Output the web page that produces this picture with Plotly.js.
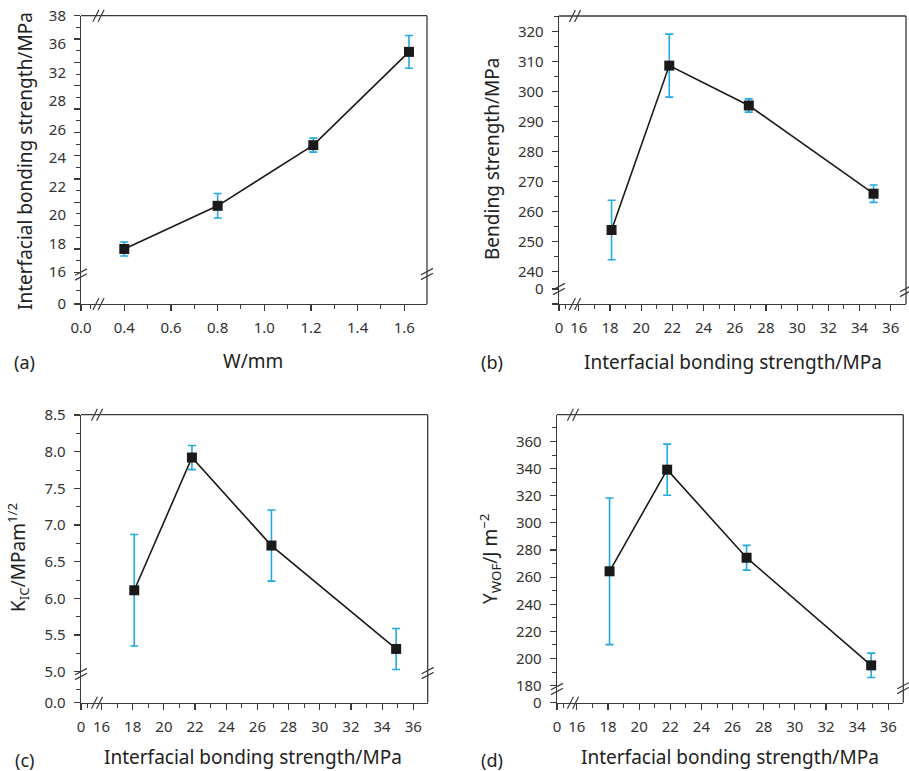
<!DOCTYPE html>
<html><head><meta charset="utf-8">
<script src="https://cdn.plot.ly/plotly-3.0.1.min.js"></script>
<style>html,body{margin:0;padding:0;background:#fff}#chart{width:909px;height:771px}</style>
</head><body><div id="chart"></div>
<script>
// ---------------- data ----------------
const widthW   = [0.4, 0.8, 1.21, 1.62];          // W/mm (panel a)
const ibsMean  = [18.0, 21.7, 26.9, 34.9];        // interfacial bonding strength, MPa
const ibsErr   = [0.6, 1.05, 0.6, 1.4];
const ibsX     = [18.1, 21.8, 26.9, 34.9];        // x for panels b-d
const bendMean = [253.9, 308.7, 295.4, 266.0];    // bending strength, MPa
const bendErr  = [9.9, 10.5, 2.2, 2.9];
const kicMean  = [6.11, 7.92, 6.72, 5.31];        // K_IC, MPa m^1/2
const kicErr   = [0.76, 0.165, 0.485, 0.28];
const wofMean  = [264.3, 339.2, 274.3, 195.0];    // work of fracture, J m^-2
const wofErr   = [54, 18.8, 9.1, 9.0];

const panelLabels = ['(a)', '(b)', '(c)', '(d)'];
const xTitles = ['W/mm', 'Interfacial bonding strength/MPa', 'Interfacial bonding strength/MPa', 'Interfacial bonding strength/MPa'];
const yTitles = ['Interfacial bonding strength/MPa', 'Bending strength/MPa', 'K<sub>IC</sub>/MPam<sup>1/2</sup>', 'Y<sub>WOF</sub>/J m<sup>\u22122</sup>'];
const xZeroText = ['0.0', '0', '0', '0'];
const yZeroText = ['0', '0', '0.0', '0'];
const aYTickText = ['38', '36', '32', '28', '26', '24', '22', '20', '18', '16'];

const seriesX = [widthW, ibsX, ibsX, ibsX];
const seriesY = [ibsMean, bendMean, kicMean, wofMean];
const seriesE = [ibsErr, bendErr, kicErr, wofErr];

// ---------------- geometry (pixels) ----------------
const W = 909, H = 771;
const fx = p => p / W;
const fy = p => 1 - p / H;
const lin = (p1, v1, p2, v2) => p => v1 + (p - p1) * (v2 - v1) / (p2 - p1);
const FONT = '"Noto Sans", "DejaVu Sans", sans-serif';
const AX = '#3a3a3a';
const EBC = '#22a8e2';

const geo = [
  {L:81, XB:97, R:427, T:15.7, YB:277, B:304,
   xm:[124.3,0.4,404.3,1.6], xdt:0.2, xmn:0.1, xdec:1,
   ym:[15.7,38,272.3,16], ydt:2, ymn:1, ydec:0,
   xsMinor:[9], yZeroPx:304, ysMinor:[290],
   xBrk:98.5, yBrk:274.5, rBrk:274,
   yt:[25,161], xt:[253,361], pl:[24,361.5]},
  {L:559, XB:572, R:906, T:16, YB:284, B:304,
   xm:[610,18,890.7,36], xdt:2, xmn:1, xdec:0,
   ym:[31.7,320,271.7,240], ydt:10, ymn:5, ydec:0,
   xsMinor:[6], yZeroPx:289, ysMinor:[],
   xBrk:575, yBrk:289, rBrk:291,
   yt:[492,159], xt:[732.5,361.5], pl:[491.5,361.5]},
  {L:81, XB:96, R:427.7, T:414.7, YB:676, B:702.7,
   xm:[132.7,18,413.3,36], xdt:2, xmn:1, xdec:0,
   ym:[415,8.5,671.7,5.0], ydt:0.5, ymn:0.25, ydec:1,
   xsMinor:[6], yZeroPx:702.7, ysMinor:[689],
   xBrk:97, yBrk:674, rBrk:673,
   yt:[18,558], xt:[253,756.5], pl:[24,760]},
  {L:557, XB:571, R:903.3, T:414.7, YB:690, B:702.7,
   xm:[608,18,888.3,36], xdt:2, xmn:1, xdec:0,
   ym:[414.3,380,685.7,180], ydt:20, ymn:10, ydec:0,
   xsMinor:[6], yZeroPx:702.7, ysMinor:[],
   xBrk:573, yBrk:689, rBrk:688,
   yt:[490,559], xt:[730,756.5], pl:[491.5,760]}
];

const baseAxis = () => ({
  showline: true, linecolor: AX, linewidth: 1.3,
  ticks: 'outside', ticklen: 6, tickwidth: 1.2, tickcolor: AX,
  showgrid: false, zeroline: false, fixedrange: true,
  tickfont: {family: FONT, size: 15, color: '#333'}
});
const minorOf = vals => ({tickmode: 'array', tickvals: vals, ticks: 'outside', ticklen: 3.5, tickwidth: 1, tickcolor: AX});
const steps = (from, to, d) => {
  const out = [];
  for (let k = Math.ceil(from / d - 1e-9); k * d <= to + 1e-9; k++) out.push(+(k * d).toFixed(6));
  return out;
};

const layout = {
  width: W, height: H, margin: {l:0, r:0, t:0, b:0},
  paper_bgcolor: '#fff', plot_bgcolor: 'rgba(0,0,0,0)',
  showlegend: false, hovermode: false,
  shapes: [], annotations: []
};
const traces = [];

function seg(x0, y0, x1, y1, w) {
  layout.shapes.push({type:'line', xref:'paper', yref:'paper',
    x0: fx(x0), y0: fy(y0), x1: fx(x1), y1: fy(y1),
    line: {color: AX, width: w || 1.2}});
}
function breakOnHorizontal(cx, cy) {
  for (const d of [-2.6, 2.6]) seg(cx + d - 3, cy + 6, cx + d + 3, cy - 6);
}
function breakOnVertical(cx, cy) {
  for (const d of [-2.4, 2.4]) seg(cx - 6, cy + d + 3.2, cx + 6, cy + d - 3.2);
}

geo.forEach((g, i) => {
  const n = i === 0 ? '' : String(i + 1);
  const xid = 'x' + n, yid = 'y' + n;
  const mx = lin(...g.xm), my = lin(...g.ym);
  const xr = [mx(g.L), mx(g.R)], yr = [my(g.B), my(g.T)];

  // x axis: short segment holding the zero, then the broken-off main scale
  const xMaj = steps(mx(g.XB), xr[1], g.xdt);
  const xv = [xr[0]].concat(xMaj);
  const xt = [xZeroText[i]].concat(xMaj.map(v => v.toFixed(g.xdec)));
  const xmn = g.xsMinor.map(p => mx(g.L + p)).concat(steps(mx(g.XB + 5), xr[1], g.xmn));
  layout['xaxis' + n] = Object.assign(baseAxis(), {
    domain: [fx(g.L), fx(g.R)], range: xr, anchor: yid,
    tickmode: 'array', tickvals: xv, ticktext: xt,
    ticklabelstandoff: 4, minor: minorOf(xmn)
  });

  // y axis
  const yMaj = steps(my(g.YB), yr[1], g.ydt);
  let yv = [my(g.yZeroPx)], yt = [yZeroText[i]];
  if (Math.abs(g.yZeroPx - g.B) > 1) { yv.push(yr[0]); yt.push(''); }
  const ymn = g.ysMinor.map(my).concat(steps(my(g.YB - 3), yr[1], g.ymn));
  const yAxis = Object.assign(baseAxis(), {
    domain: [fy(g.B), fy(g.T)], range: yr, anchor: xid,
    tickmode: 'array', tickvals: yv.concat(yMaj),
    ticktext: yt.concat(yMaj.map(v => v.toFixed(g.ydec))),
    ticklabelstandoff: 5, minor: minorOf(ymn)
  });
  if (i === 0) {
    // panel (a): the original's tick labels follow their own, wider spacing
    yAxis.showticklabels = false;
    const labPx = aYTickText.map((t, k) => 15.7 + k * 28.45);
    layout.yaxis5 = Object.assign(baseAxis(), {
      overlaying: 'y', side: 'left', anchor: 'x', range: yr,
      showline: false, tickcolor: 'rgba(0,0,0,0)',
      tickmode: 'array', tickvals: [my(g.yZeroPx)].concat(labPx.map(my)),
      ticktext: [yZeroText[i]].concat(aYTickText),
      ticklabelstandoff: 5
    });
    traces.push({type: 'scatter', mode: 'markers', x: [], y: [], xaxis: 'x', yaxis: 'y5', hoverinfo: 'skip'});
  }
  layout['yaxis' + n] = yAxis;

  traces.push({
    type: 'scatter', mode: 'lines+markers',
    x: seriesX[i], y: seriesY[i], xaxis: xid, yaxis: yid,
    line: {color: '#1a1a1a', width: 1.6},
    marker: {symbol: 'square', size: 10, color: '#1a1a1a'},
    error_y: {type: 'data', array: seriesE[i], visible: true, color: EBC, thickness: 1.6, width: 4},
    cliponaxis: false
  });

  // frame (top and right) and axis-break marks
  seg(g.L, g.T, g.R, g.T, 1.3);
  seg(g.R, g.T, g.R, g.B, 1.3);
  breakOnHorizontal(g.xBrk, g.T);
  breakOnHorizontal(g.xBrk, g.B);
  breakOnVertical(g.L, g.yBrk);
  breakOnVertical(g.R, g.rBrk);

  // titles and panel label
  const ann = (txt, p, extra) => layout.annotations.push(Object.assign({
    text: txt, xref: 'paper', yref: 'paper', x: fx(p[0]), y: fy(p[1]),
    xanchor: 'center', yanchor: 'middle', showarrow: false,
    font: {family: FONT, size: 19, color: '#222'}
  }, extra || {}));
  ann(yTitles[i], g.yt, {textangle: -90});
  ann(xTitles[i], g.xt);
  ann(panelLabels[i], g.pl, {font: {family: FONT, size: 18, color: '#222'}});
});

Plotly.newPlot('chart', traces, layout, {staticPlot: true, displayModeBar: false});
</script>
</body></html>
